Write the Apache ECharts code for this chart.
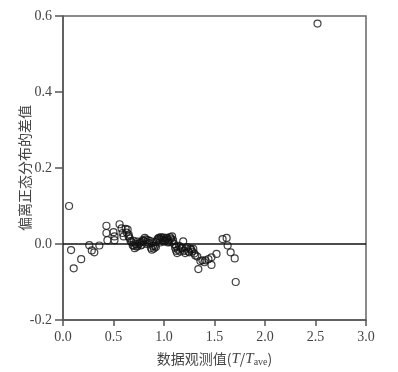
<!DOCTYPE html>
<html><head><meta charset="utf-8">
<script src="https://cdn.jsdelivr.net/npm/echarts@6/dist/echarts.min.js"></script>
<style>html,body{margin:0;padding:0;background:#fff}#c{width:398px;height:372px}</style>
</head><body><div id="c"></div>
<script>
const xTicks = ['0.0','0.5','1.0','1.5','2.0','2.5','3.0'];
const yTicks = ['-0.2','0.0','0.2','0.4','0.6'];
const xValues = [0.06,0.08,0.106,0.18,0.26,0.285,0.31,0.36,0.43,0.43,0.44,0.50,0.51,0.51,0.56,0.58,0.59,0.60,0.62,0.63,0.64,0.65,0.65,0.66,0.67,0.68,0.69,0.70,0.71,0.72,0.73,0.74,0.75,0.76,0.77,0.78,0.79,0.80,0.81,0.82,0.83,0.84,0.85,0.86,0.87,0.88,0.89,0.90,0.91,0.92,0.93,0.94,0.95,0.96,0.97,0.98,0.99,1.00,1.01,1.02,1.03,1.04,1.05,1.06,1.07,1.08,1.09,1.10,1.11,1.12,1.13,1.14,1.15,1.16,1.18,1.19,1.20,1.21,1.22,1.24,1.25,1.27,1.28,1.29,1.30,1.33,1.34,1.38,1.41,1.44,1.47,1.47,1.52,1.58,1.62,1.63,1.66,1.70,1.71,2.52,
  0.70,0.74,0.78,0.83,0.88,0.92,0.96,1.00,1.04,1.08,1.12,1.17,1.23,1.26,1.31,1.36,1.40];
const yValues = [0.10,-0.016,-0.064,-0.04,-0.003,-0.017,-0.022,-0.004,0.048,0.029,0.01,0.031,0.02,0.01,0.052,0.041,0.029,0.02,0.04,0.03,0.038,0.025,0.02,0.015,0.007,0.005,-0.003,-0.005,-0.011,0.0,-0.007,-0.005,0.0,0.003,-0.004,0.005,0.01,0.008,0.016,0.012,0.005,0.01,0.002,0.008,-0.01,-0.015,-0.005,-0.012,-0.005,0.005,0.01,0.014,0.016,0.012,0.018,0.015,0.01,0.017,0.008,0.013,0.016,0.011,0.005,0.018,0.014,0.02,0.01,0.0,-0.01,-0.018,-0.024,-0.015,-0.005,-0.02,-0.01,0.007,-0.018,-0.024,-0.012,-0.02,-0.022,-0.015,-0.02,-0.013,-0.025,-0.033,-0.066,-0.043,-0.043,-0.04,-0.055,-0.035,-0.026,0.013,0.016,-0.004,-0.022,-0.038,-0.10,0.58,
  0.008,0.006,-0.002,0.0,0.004,-0.008,0.004,0.006,0.004,0.006,-0.006,-0.012,-0.008,-0.012,-0.03,-0.045,-0.048];
const points = xValues.map((x,i)=>[x,yValues[i]]);
const chart = echarts.init(document.getElementById('c'));
const serif = 'Liberation Serif';
chart.setOption({
  animation:false,
  grid:{left:63,right:32,top:16,bottom:52,containLabel:false,outerBoundsMode:'none',show:true,borderColor:'#666',borderWidth:1.5,backgroundColor:'transparent'},
  xAxis:{type:'value',min:0,max:3,interval:0.5,
    name:'{a|数据观测值(}{i|T}{a|/}{i|T}{s|ave}{a|)}',nameLocation:'middle',nameGap:31,nameMoveOverlap:false,
    nameTextStyle:{rich:{a:{fontFamily:'Noto Sans CJK SC',fontSize:14,color:'#444'},i:{fontFamily:serif,fontStyle:'italic',fontSize:15,color:'#444'},s:{fontFamily:serif,fontSize:10,color:'#444',verticalAlign:'bottom',padding:[6,0,0,0]}}},
    axisLine:{show:true,onZero:false,lineStyle:{color:'#555',width:1.5}},
    axisTick:{show:true,inside:false,length:6,lineStyle:{color:'#555',width:1.5}},
    axisLabel:{fontFamily:serif,fontSize:14,color:'#444',margin:10,formatter:(v)=>xTicks[Math.round(v/0.5)]},
    splitLine:{show:false}},
  yAxis:{type:'value',min:-0.2,max:0.6,interval:0.2,
    name:'偏离正态分布的差值',nameLocation:'middle',nameGap:31,nameMoveOverlap:false,
    nameTextStyle:{fontFamily:'Noto Sans CJK SC',fontSize:14,color:'#444'},
    axisLine:{show:true,onZero:false,lineStyle:{color:'#555',width:1.5}},
    axisTick:{show:true,inside:false,length:8,lineStyle:{color:'#555',width:1.5}},
    axisLabel:{fontFamily:serif,fontSize:14,color:'#444',margin:11,formatter:(v)=>yTicks[Math.round((v+0.2)/0.2)]},
    splitLine:{show:false}},
  series:[{type:'scatter',data:points,symbol:'circle',symbolSize:7,
    itemStyle:{color:'rgba(255,255,255,0)',borderColor:'#111',borderWidth:1.2},
    markLine:{silent:true,symbol:'none',label:{show:false},lineStyle:{color:'#111',width:1.5,type:'solid'},data:[{yAxis:0}]}}]
});
</script></body></html>
